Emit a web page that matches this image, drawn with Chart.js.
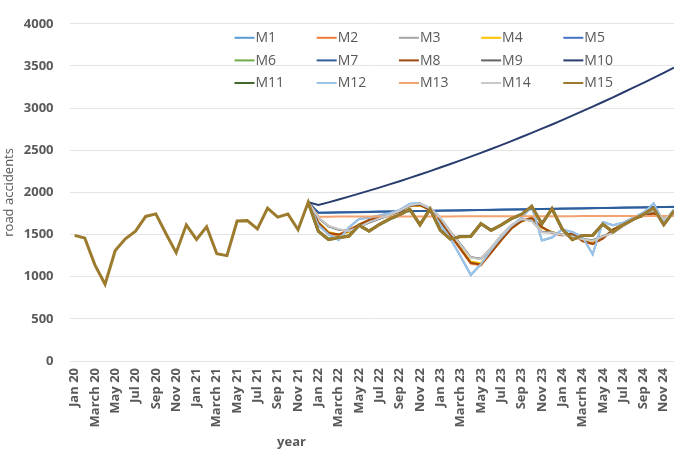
<!DOCTYPE html>
<html>
<head>
<meta charset="utf-8">
<script src="https://cdn.jsdelivr.net/npm/chart.js@4/dist/chart.umd.min.js"></script>
<style>
  html, body { margin: 0; padding: 0; background: #fff; overflow: hidden; width: 674px; height: 453px; }
  #wrap { width: 680px; height: 453px; position: relative; }
</style>
</head>
<body>
<div id="wrap"><canvas id="c" width="680" height="453"></canvas></div>
<script>
// Monthly categories, Jan 2020 - Dec 2024 (every other one is printed on the axis)
const months = [
  'Jan 20','Feb 20','March 20','Apr 20','May 20','Jun 20','Jul 20','Aug 20','Sep 20','Oct 20','Nov 20','Dec 20',
  'Jan 21','Feb 21','March 21','Apr 21','May 21','Jun 21','Jul 21','Aug 21','Sep 21','Oct 21','Nov 21','Dec 21',
  'Jan 22','Feb 22','March 22','Apr 22','May 22','Jun 22','Jul 22','Aug 22','Sep 22','Oct 22','Nov 22','Dec 22',
  'Jan 23','Feb 23','March 23','Apr 23','May 23','Jun 23','Jul 23','Aug 23','Sep 23','Oct 23','Nov 23','Dec 23',
  'Jan 24','Feb 24','Macrh 24','Apr 24','May 24','Jun 24','Jul 24','Aug 24','Sep 24','Oct 24','Nov 24','Dec 24'
];

// Observed road accidents, Jan 20 - Dec 21
const observed = [1490,1460,1140,910,1310,1450,1540,1715,1745,1510,1285,1615,
                  1442,1593,1273,1250,1660,1665,1566,1813,1707,1744,1557,1884];

// Model forecasts, Jan 22 - Dec 24
const m1  = [1610,1500,1435,1585,1685,1700,1725,1755,1790,1865,1870,1805,1620,1450,1240,1020,1145,1320,1470,1605,1700,1835,1430,1465,1560,1530,1470,1265,1650,1610,1640,1700,1760,1870,1640,1800];
const m2  = [1640,1500,1495,1560,1615,1675,1700,1730,1770,1845,1850,1795,1650,1490,1320,1155,1135,1280,1430,1570,1660,1700,1590,1520,1490,1515,1420,1385,1450,1560,1625,1685,1720,1750,1705,1735];
const m3  = [1700,1600,1560,1545,1590,1645,1690,1730,1780,1845,1865,1815,1700,1530,1380,1230,1210,1340,1490,1610,1680,1665,1530,1525,1500,1480,1445,1430,1480,1520,1600,1680,1740,1785,1690,1750];
const m4  = [1650,1530,1500,1530,1620,1670,1700,1735,1775,1840,1845,1790,1660,1500,1340,1180,1160,1290,1440,1575,1655,1690,1580,1530,1495,1505,1430,1400,1460,1555,1620,1680,1725,1760,1705,1740];
const m5  = [1760,1762,1764,1766,1768,1770,1772,1774,1776,1778,1780,1782,1784,1786,1788,1790,1792,1794,1796,1798,1800,1802,1804,1806,1808,1810,1812,1814,1816,1818,1820,1822,1824,1826,1828,1830];
const m6  = [1545,1450,1470,1490,1605,1545,1625,1685,1735,1795,1620,1800,1555,1450,1480,1480,1625,1550,1615,1685,1740,1830,1625,1805,1565,1445,1490,1495,1620,1535,1615,1680,1740,1810,1620,1775];
const m7  = [1758,1760,1762,1764,1766,1768,1770,1772,1774,1776,1778,1780,1782,1784,1786,1788,1790,1792,1794,1796,1798,1800,1802,1804,1806,1808,1810,1812,1814,1816,1818,1820,1822,1824,1826,1828];
const m8  = [1645,1520,1500,1540,1618,1672,1700,1732,1772,1842,1848,1792,1652,1495,1330,1165,1145,1285,1435,1572,1658,1698,1588,1522,1492,1512,1425,1390,1455,1558,1622,1682,1722,1752,1703,1737];
const m9  = [1698,1598,1558,1547,1592,1643,1688,1728,1778,1843,1863,1813,1698,1532,1382,1232,1212,1338,1488,1608,1678,1667,1532,1527,1502,1482,1447,1432,1482,1522,1602,1678,1738,1783,1692,1748];
const m10 = [1850,1882,1916,1950,1985,2021,2057,2095,2133,2172,2212,2253,2295,2337,2380,2424,2469,2515,2561,2609,2657,2706,2756,2806,2858,2910,2964,3018,3072,3128,3185,3242,3300,3359,3419,3480];
const m11 = [1538,1442,1462,1482,1608,1542,1618,1683,1733,1798,1617,1803,1552,1447,1477,1480,1628,1550,1613,1688,1738,1833,1627,1806,1567,1442,1488,1492,1622,1532,1613,1682,1738,1813,1617,1778];
const m12 = [1612,1502,1437,1583,1683,1702,1723,1753,1792,1863,1868,1807,1622,1452,1242,1025,1148,1318,1468,1603,1702,1833,1432,1467,1558,1528,1472,1268,1648,1612,1638,1702,1758,1868,1642,1798];
const m13 = [1712,1712,1713,1713,1713,1713,1714,1714,1714,1714,1715,1715,1715,1715,1716,1716,1716,1716,1717,1717,1717,1717,1718,1718,1718,1718,1719,1719,1719,1719,1720,1720,1720,1720,1721,1721];
const m14 = [1702,1602,1562,1543,1588,1647,1692,1732,1782,1847,1867,1817,1702,1528,1378,1228,1208,1342,1492,1612,1682,1663,1528,1523,1498,1478,1443,1428,1478,1518,1598,1682,1742,1787,1688,1752];
const m15 = [1540,1440,1465,1480,1610,1540,1620,1685,1735,1800,1615,1805,1550,1445,1475,1478,1630,1548,1615,1690,1740,1835,1625,1808,1565,1440,1490,1490,1625,1530,1615,1680,1740,1815,1615,1780];

const seriesNames = ['M1','M2','M3','M4','M5','M6','M7','M8','M9','M10','M11','M12','M13','M14','M15'];
const seriesColors = ['#5B9BD5','#ED7D31','#A5A5A5','#FFC000','#4472C4','#70AD47','#2F5F9A','#9E480E','#636363',
                      '#283C6E','#43682B','#9DC3E6','#F2A26E','#C9C9C9','#9C7B2E'];
const forecasts = [m1,m2,m3,m4,m5,m6,m7,m8,m9,m10,m11,m12,m13,m14,m15];

const lastObs = observed.length - 1;
const datasets = forecasts.map((f, k) => {
  const isLast = k === forecasts.length - 1;
  const data = isLast
    ? observed.concat(f)
    : new Array(lastObs).fill(null).concat([observed[lastObs]], f);
  return {
    label: seriesNames[k],
    data,
    borderColor: seriesColors[k],
    backgroundColor: seriesColors[k],
    borderWidth: (k === 14 || k === 10) ? 3 : 2,
    pointRadius: 0,
    tension: 0,
    fill: false,
    order: forecasts.length - k   // later series are painted on top
  };
});

const TEXT = '#595959';
const FONT = '"Open Sans", "DejaVu Sans", sans-serif';

// Legend laid out in a 5-column grid inside the plot area
const gridLegend = {
  id: 'gridLegend',
  afterDraw(chart) {
    const { ctx, chartArea } = chart;
    const x0 = chartArea.left + 165, colW = 82.2, y0 = chartArea.top + 14, rowH = 22.6;
    ctx.save();
    ctx.font = '14px ' + FONT;
    ctx.textBaseline = 'middle';
    ctx.textAlign = 'left';
    chart.data.datasets.forEach((ds, k) => {
      const col = k % 5, row = Math.floor(k / 5);
      const x = x0 + col * colW, y = y0 + row * rowH;
      ctx.strokeStyle = ds.borderColor;
      ctx.lineWidth = 2;
      ctx.beginPath();
      ctx.moveTo(x, y);
      ctx.lineTo(x + 20, y);
      ctx.stroke();
      ctx.fillStyle = TEXT;
      ctx.fillText(ds.label, x + 21, y + 0.5);
    });
    ctx.restore();
  }
};

// Horizontal axis title
const xTitle = {
  id: 'xTitle',
  afterDraw(chart) {
    const { ctx, chartArea } = chart;
    ctx.save();
    ctx.font = 'bold 13px ' + FONT;
    ctx.fillStyle = TEXT;
    ctx.textAlign = 'center';
    ctx.textBaseline = 'middle';
    ctx.fillText('year', chartArea.left + 222, chartArea.bottom + 81);
    ctx.restore();
  }
};

new Chart(document.getElementById('c'), {
  type: 'line',
  data: { labels: months, datasets },
  options: {
    responsive: false,
    animation: false,
    devicePixelRatio: 1,
    layout: { padding: { top: 14, right: 1, left: 0, bottom: 0 } },
    plugins: { legend: { display: false }, tooltip: { enabled: false } },
    scales: {
      x: {
        offset: true,
        grid: { display: false, drawTicks: false },
        border: { display: false },
        ticks: {
          autoSkip: false, minRotation: 90, maxRotation: 90, padding: 7,
          color: TEXT, font: { family: FONT, size: 13, weight: 'bold' },
          callback: (v, i) => (i % 2 === 0 ? months[i] : '')
        },
        afterFit: (s) => { s.height = 92; s.paddingLeft = 0; s.paddingRight = 0; }
      },
      y: {
        min: 0, max: 4000,
        grid: { color: '#E4E4E4', lineWidth: 1, drawTicks: false },
        border: { display: false },
        ticks: {
          stepSize: 500, padding: 16, color: TEXT, font: { family: FONT, size: 13, weight: 'bold' },
          callback: (v) => String(v)
        },
        title: { display: true, text: 'road accidents', color: TEXT, font: { family: FONT, size: 13 }, padding: { top: 1, bottom: 0 } },
        afterFit: (s) => { s.width = 69.5; }
      }
    }
  },
  plugins: [gridLegend, xTitle]
});
</script>
</body>
</html>
